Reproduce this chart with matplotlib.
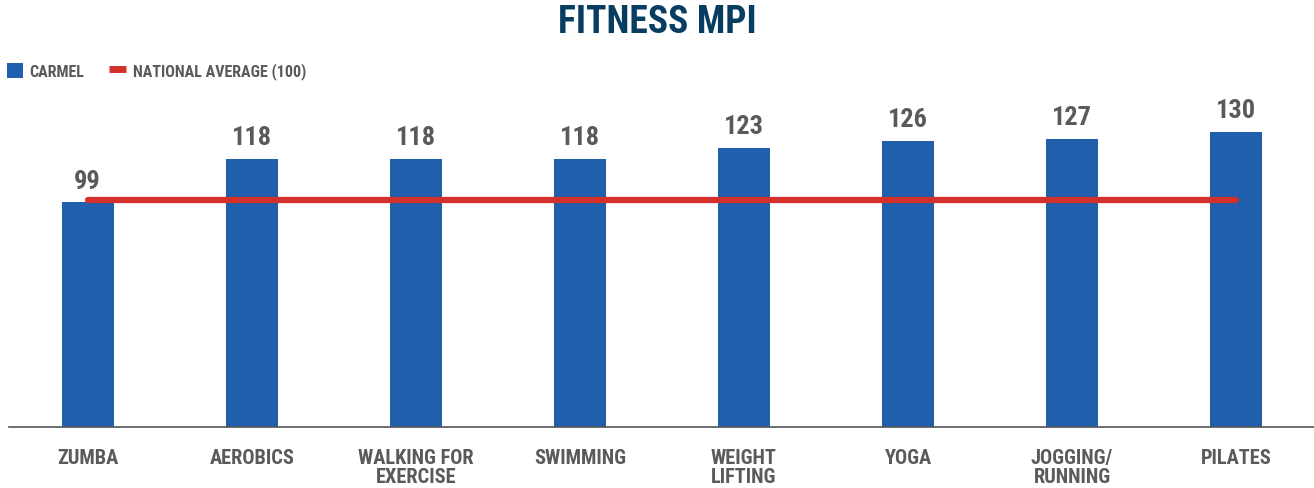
import matplotlib
matplotlib.use("Agg")
import matplotlib.pyplot as plt
from matplotlib.patches import Patch
from matplotlib.lines import Line2D

categories = ["ZUMBA", "AEROBICS", "WALKING FOR\nEXERCISE", "SWIMMING",
              "WEIGHT\nLIFTING", "YOGA", "JOGGING/\nRUNNING", "PILATES"]
carmel = [99, 118, 118, 118, 123, 126, 127, 130]
national_avg = [100] * len(categories)

FONT = ["Roboto Condensed", "Roboto", "DejaVu Sans"]
BLUE = "#205FAD"
RED = "#D3302B"
NAVY = "#073D60"
GREY = "#5A5A5A"

plt.rcParams['font.family'] = FONT

fig = plt.figure(figsize=(13.14, 4.89), dpi=100)
ax = fig.add_axes([9/1314, 61/489, 1305/1314, 330/489])

x = list(range(len(categories)))
ax.bar(x, carmel, width=52/164, color=BLUE, zorder=2)
ax.plot(x, national_avg, color=RED, lw=4.5, solid_capstyle="round", zorder=3)

for xi, v in zip(x, carmel):
    ax.annotate(str(v), (xi, v), xytext=(0, 7), textcoords="offset points",
                ha="center", va="bottom", fontsize=19, fontweight="bold",
                color=GREY)

ax.set_xlim(-0.48, 7.475)
ax.set_ylim(0, 330/2.27)
ax.set_xticks(x)
ax.set_xticklabels(categories, fontsize=14.7, fontweight="bold", color=GREY,
                   linespacing=1.0)
ax.tick_params(axis="x", length=0, pad=15)
ax.set_yticks([])
for s in ["top", "right", "left"]:
    ax.spines[s].set_visible(False)
ax.spines["bottom"].set_color("#555555")
ax.spines["bottom"].set_linewidth(1.2)

fig.text(0.5, 0.955, "FITNESS MPI", ha="center", va="center", fontsize=27,
         fontweight="bold", color=NAVY)

handles = [Patch(facecolor=BLUE, edgecolor="none"),
           Line2D([0], [0], color=RED, lw=5, solid_capstyle="butt")]
leg = fig.legend(handles, ["CARMEL", "NATIONAL AVERAGE (100)"], loc="center left",
                 bbox_to_anchor=(0.005, 0.853), ncol=2, frameon=False,
                 fontsize=11.5, handlelength=1.05, handleheight=1.05,
                 handletextpad=0.4, columnspacing=1.55, borderaxespad=0,
                 borderpad=0.0)
for t in leg.get_texts():
    t.set_color(GREY)
    t.set_fontweight("bold")

fig.savefig("out.png", dpi=100)
